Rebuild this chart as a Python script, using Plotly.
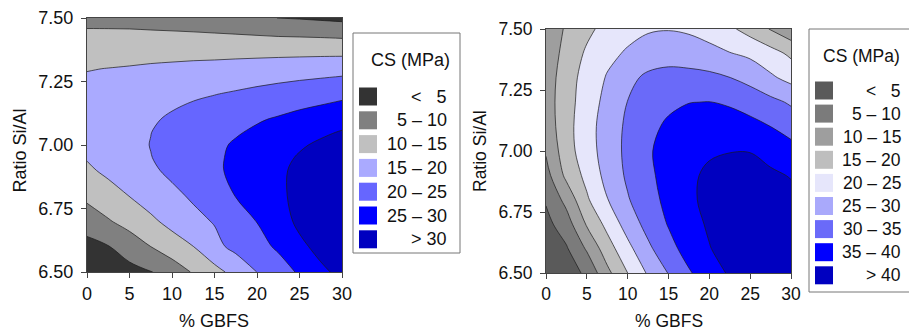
import plotly.graph_objects as go

W, H = 909, 331

# ---------------- data ----------------
gbfs = [0, 2.5, 5, 7.5, 10, 12.5, 15, 17.5, 20, 22.5, 25, 27.5, 30]
ratio_left = [6.5, 6.6, 6.7, 6.8, 6.9, 6.95, 7.0, 7.05, 7.1, 7.2, 7.3, 7.4, 7.5]
ratio_right = [6.5, 6.6, 6.7, 6.8, 6.9, 7.0, 7.1, 7.2, 7.3, 7.4, 7.5]

# left panel: CS (MPa), rows = ratio_left, cols = gbfs
cs_left = [
    [1.0, 2.25, 3.5, 4.75, 7.4, 10.4, 13.4, 16.6, 20.05, 22.8, 25.6, 29.2, 31.0],
    [3.6, 4.8, 7.3, 10.0, 12.5, 14.95, 18.7, 21.3, 23.4, 25.7, 29.1, 31.2, 32.5],
    [7.1, 9.6, 11.8, 14.0, 16.6, 18.8, 20.3, 23.3, 25.1, 28.1, 30.9, 32.3, 33.3],
    [11.2, 13.1, 15.1, 17.4, 19.0, 20.6, 23.1, 25.1, 26.9, 28.9, 31.5, 32.8, 33.7],
    [14.2, 16.0, 17.7, 19.3, 20.9, 22.5, 24.3, 25.9, 27.4, 29.2, 31.0, 32.5, 33.5],
    [15.3, 16.8, 18.2, 19.9, 21.2, 22.7, 24.3, 25.8, 27.2, 28.8, 30.4, 31.7, 32.8],
    [16.2, 17.5, 18.8, 20.1, 21.4, 22.7, 24.1, 25.5, 26.7, 28.1, 29.5, 30.7, 31.8],
    [16.5, 17.7, 18.8, 19.95, 21.1, 22.2, 23.3, 24.6, 25.7, 27.0, 28.2, 29.3, 30.3],
    [16.8, 17.8, 18.7, 19.5, 20.6, 21.6, 22.6, 23.6, 24.6, 25.5, 26.5, 27.4, 28.4],
    [16.6, 17.1, 17.6, 18.2, 18.8, 19.4, 19.9, 20.5, 21.2, 21.9, 22.6, 23.2, 23.9],
    [14.8, 15.1, 15.4, 15.8, 16.1, 16.4, 16.6, 16.9, 17.2, 17.5, 17.8, 18.1, 18.4],
    [11.7, 11.8, 11.85, 11.9, 11.95, 12.0, 12.0, 12.0, 11.95, 11.9, 11.8, 11.7, 11.5],
    [8.8, 8.7, 8.6, 8.3, 8.0, 7.6, 7.1, 6.5, 5.8, 4.95, 4.7, 4.3, 3.9],
]

# right panel: rows = ratio_right, cols = gbfs
cs_right = [
    [0.5, 2.5, 6.0, 13.7, 20.0, 25.6, 30.2, 34.5, 37.6, 40.6, 42.3, 43.0, 42.5],
    [1.5, 4.5, 10.6, 17.75, 23.6, 29.0, 33.4, 36.9, 39.8, 41.8, 43.2, 43.3, 42.5],
    [3.5, 7.7, 15.5, 21.4, 27.1, 31.7, 35.3, 38.3, 40.6, 42.5, 43.2, 43.0, 42.0],
    [5.5, 11.5, 19.3, 24.8, 29.6, 33.2, 36.3, 39.3, 41.0, 42.2, 42.5, 42.0, 41.0],
    [8.2, 16.2, 21.4, 26.6, 30.8, 34.1, 36.6, 39.4, 40.6, 41.2, 41.3, 40.6, 39.8],
    [10.5, 17.9, 22.8, 27.2, 31.2, 34.4, 37.0, 38.6, 39.6, 39.9, 39.9, 38.8, 36.8],
    [12.0, 18.3, 23.0, 27.3, 30.9, 33.75, 35.8, 37.0, 37.6, 37.4, 36.5, 35.0, 33.0],
    [12.5, 18.2, 22.3, 26.6, 30.1, 32.3, 34.0, 34.9, 35.1, 34.4, 33.0, 31.3, 29.4],
    [12.3, 17.8, 21.9, 25.4, 28.7, 31.0, 31.8, 31.6, 31.2, 30.1, 28.4, 25.8, 23.5],
    [11.5, 16.9, 20.7, 23.7, 25.6, 27.2, 27.8, 27.5, 26.6, 25.2, 24.0, 21.9, 19.0],
    [11.0, 15.75, 18.9, 21.6, 23.4, 24.5, 24.8, 24.3, 22.9, 20.9, 18.1, 14.7, 11.5],
]

x_ticks = [0, 5, 10, 15, 20, 25, 30]
y_ticks = [6.5, 6.75, 7.0, 7.25, 7.5]

left_labels = ["<\u00a0\u00a0\u00a05", "5 \u2013 10", "10 \u2013 15", "15 \u2013 20",
               "20 \u2013 25", "25 \u2013 30", "> 30"]
left_colors = ["#333333", "#808080", "#c0c0c0", "#aaaaff", "#6666ff", "#0000ff", "#0000c0"]

right_labels = ["<\u00a0\u00a0\u00a05", "5 \u2013 10", "10 \u2013 15", "15 \u2013 20", "20 \u2013 25",
                "25 \u2013 30", "30 \u2013 35", "35 \u2013 40", "> 40"]
right_colors = ["#5a5a5a", "#7b7b7b", "#9e9e9e", "#bebebe", "#e6e6fb",
                "#a9a9fb", "#6a6af9", "#0000ff", "#0000c0"]

FONT = "Liberation Sans, Arial, sans-serif"


def step_scale(colors):
    n = len(colors)
    sc = []
    for k, c in enumerate(colors):
        sc.append([k / n, c])
        sc.append([(k + 1) / n, c])
    return sc


def px_x(p):
    return p / W


def px_y(p):
    return 1 - p / H


fig = go.Figure()

fig.add_trace(go.Contour(
    x=gbfs, y=ratio_left, z=cs_left, xaxis="x", yaxis="y",
    autocontour=False,
    contours=dict(start=5, end=5 * (len(left_colors) - 1), size=5, coloring="fill"),
    colorscale=step_scale(left_colors), showscale=False,
    line=dict(color="#1a1a1a", width=0.7, smoothing=1.0),
    hoverinfo="skip",
))
fig.add_trace(go.Contour(
    x=gbfs, y=ratio_right, z=cs_right, xaxis="x2", yaxis="y2",
    autocontour=False,
    contours=dict(start=5, end=5 * (len(right_colors) - 1), size=5, coloring="fill"),
    colorscale=step_scale(right_colors), showscale=False,
    line=dict(color="#1a1a1a", width=0.7, smoothing=1.0),
    hoverinfo="skip",
))

axis_common = dict(showline=True, linecolor="#444", linewidth=1, mirror=True,
                   ticks="outside", ticklen=5, tickcolor="#444", showgrid=False,
                   zeroline=False, fixedrange=True, automargin=False)

fig.update_layout(
    width=W, height=H, autosize=False,
    margin=dict(l=0, r=0, t=0, b=0),
    paper_bgcolor="white", plot_bgcolor="white",
    font=dict(family=FONT, color="#111"),
    showlegend=False,
    xaxis=dict(domain=[px_x(87), px_x(342)], range=[0, 30], anchor="y",
               tickvals=x_ticks, tickfont=dict(size=18), ticklabelstandoff=0, **axis_common),
    yaxis=dict(domain=[px_y(272), px_y(18)], range=[6.5, 7.5], anchor="x",
               tickvals=y_ticks, tickformat=".2f", tickfont=dict(size=18),
               ticklabelstandoff=4, **axis_common),
    xaxis2=dict(domain=[px_x(546), px_x(791)], range=[0, 30], anchor="y2",
                tickvals=x_ticks, tickfont=dict(size=17.5), ticklabelstandoff=0, **axis_common),
    yaxis2=dict(domain=[px_y(273), px_y(29)], range=[6.5, 7.5], anchor="x2",
                tickvals=y_ticks, tickformat=".2f", tickfont=dict(size=17.5),
                ticklabelstandoff=4, **axis_common),
)

shapes = []
annos = []

# axis titles
for cx, cy, txt, ang, size in [
    (214, 321, "% GBFS", 0, 18), (669, 321, "% GBFS", 0, 17.5),
    (19.5, 151, "Ratio Si/Al", -90, 18), (480, 151, "Ratio Si/Al", -90, 17.5),
]:
    annos.append(dict(x=px_x(cx), y=px_y(cy), xref="paper", yref="paper", text=txt,
                      showarrow=False, xanchor="center", yanchor="middle", textangle=ang,
                      font=dict(size=size, family=FONT, color="#111")))


def add_legend(box, title_c, sw_x, first_c, step, text_right, labels, colors, size):
    x0, y0, x1, y1 = box
    shapes.append(dict(type="rect", xref="paper", yref="paper",
                       x0=px_x(x0), x1=px_x(x1), y0=px_y(y1), y1=px_y(y0),
                       line=dict(color="#777", width=1), fillcolor="white", layer="above"))
    annos.append(dict(x=px_x(title_c[0]), y=px_y(title_c[1]), xref="paper", yref="paper",
                      text="CS (MPa)", showarrow=False, xanchor="center", yanchor="middle",
                      font=dict(size=size, family=FONT, color="#111")))
    for i, (lab, col) in enumerate(zip(labels, colors)):
        cy = first_c + i * step
        shapes.append(dict(type="rect", xref="paper", yref="paper",
                           x0=px_x(sw_x[0]), x1=px_x(sw_x[1]),
                           y0=px_y(cy + 9), y1=px_y(cy - 9),
                           line=dict(width=0), fillcolor=col, layer="above"))
        annos.append(dict(x=px_x(text_right), y=px_y(cy), xref="paper", yref="paper",
                          text=lab, showarrow=False, xanchor="right", yanchor="middle",
                          font=dict(size=size, family=FONT, color="#111")))


add_legend((353, 33, 460, 253), (410.5, 60), (359, 377), 96.5, 23.8, 449,
           left_labels, left_colors, 18)
add_legend((809, 29, 915, 292), (861.5, 56), (815, 833), 90.5, 23.1, 903,
           right_labels, right_colors, 17.5)

fig.update_layout(shapes=shapes, annotations=annos)

fig.write_html("out.html")
